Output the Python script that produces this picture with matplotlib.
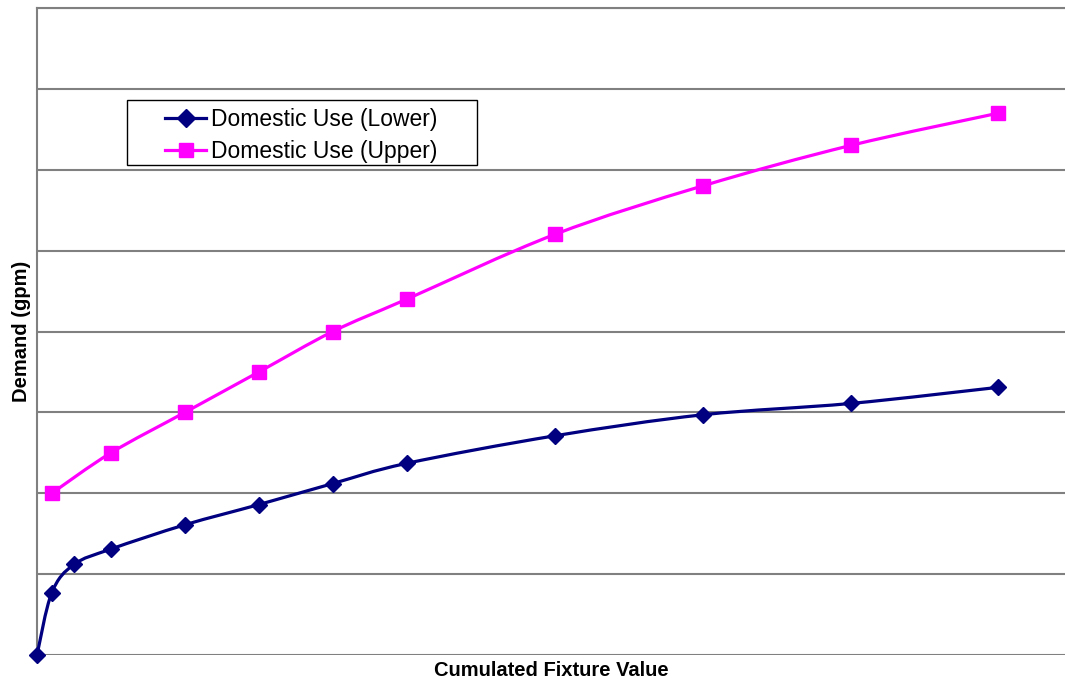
import numpy as np
import matplotlib.pyplot as plt
from matplotlib.path import Path
from matplotlib.patches import PathPatch, Rectangle
from matplotlib.lines import Line2D

plt.rcParams['font.family'] = ['Liberation Sans', 'DejaVu Sans']

# fixture value vs demand
x_lower = [0, 2, 5, 10, 20, 30, 40, 50, 70, 90, 110, 130]
y_lower = [0, 7.7, 11.2, 13.1, 16.1, 18.6, 21.2, 23.7, 27.1, 29.7, 31.1, 33.1]
x_upper = [2, 10, 20, 30, 40, 50, 70, 90, 110, 130]
y_upper = [20, 25, 30, 35, 40, 44, 52, 58, 63, 67]

NAVY = "#000080"
MAGENTA = "#FF00FF"
GRID = "#808080"


def smooth_path(xs, ys, k=1/6):
    # cubic bezier through the points, Catmull-Rom style control points
    pts = np.column_stack([xs, ys]).astype(float)
    n = len(pts)
    verts = [pts[0]]
    codes = [Path.MOVETO]
    for i in range(n - 1):
        p0 = pts[i - 1] if i > 0 else pts[i]
        p1, p2 = pts[i], pts[i + 1]
        p3 = pts[i + 2] if i + 2 < n else pts[i + 1]
        c1 = p1 + (p2 - p0) * k
        c2 = p2 - (p3 - p1) * k
        verts += [c1, c2, p2]
        codes += [Path.CURVE4] * 3
    return Path(verts, codes)


W, H = 1065, 683
fig = plt.figure(figsize=(W / 100, H / 100), dpi=100)
ax = fig.add_axes([37 / W, 28 / H, 1028 / W, 647 / H])
ax.set_xlim(0, 139)
ax.set_ylim(0, 80)

ax.set_yticks(np.arange(0, 81, 10))
ax.set_xticks([])
ax.tick_params(left=False, labelleft=False)
ax.yaxis.grid(True, color=GRID, linewidth=1.5)
ax.set_axisbelow(True)
for s in ['right', 'bottom']:
    ax.spines[s].set_visible(False)
for s in ['left', 'top']:
    ax.spines[s].set_color(GRID)
    ax.spines[s].set_linewidth(1.5)

for xs, ys, c, m, ms in [(x_lower, y_lower, NAVY, 'D', 8.5),
                         (x_upper, y_upper, MAGENTA, 's', 10)]:
    ax.add_patch(PathPatch(smooth_path(xs, ys), facecolor='none', edgecolor=c,
                           linewidth=2.3, clip_on=False, zorder=3))
    ax.plot(xs, ys, linestyle='none', marker=m, markersize=ms, color=c,
            clip_on=False, zorder=4)

# legend box drawn separately so it can have wide side padding
ax.add_patch(Rectangle((127 / W, (H - 165) / H), 350 / W, 65 / H,
                       transform=fig.transFigure, facecolor='white',
                       edgecolor='black', linewidth=1.0, zorder=5,
                       clip_on=False))

handles = [Line2D([], [], color=NAVY, linewidth=2.3, marker='D', markersize=9.5),
           Line2D([], [], color=MAGENTA, linewidth=2.3, marker='s', markersize=10.5)]
leg = ax.legend(handles, ['Domestic Use (Lower)', 'Domestic Use (Upper)'],
                loc='upper left', bbox_to_anchor=(128 / 1028, 547 / 647),
                borderaxespad=0, frameon=False, fontsize=16.5,
                handlelength=1.8, handletextpad=0.2,
                labelspacing=0.4, borderpad=0)
leg.set_zorder(6)

ax.set_xlabel('Cumulated Fixture Value', fontsize=14.5, fontweight='bold', labelpad=4)
ax.set_ylabel('Demand (gpm)', fontsize=14.5, fontweight='bold', labelpad=4)

fig.savefig('out.png', dpi=100)
